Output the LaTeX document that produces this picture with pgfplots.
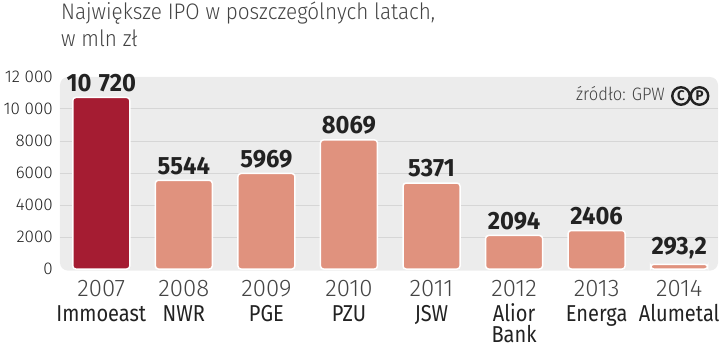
\documentclass[border=0pt]{standalone}
\usepackage{fontspec}
\usepackage{pgfplots}
\pgfplotsset{compat=1.18}
\setmainfont{Fira Sans}
\newfontfamily\lightf{Fira Sans Light}
\newfontfamily\titlef{Fira Sans Light}[FakeStretch=0.92]
\newfontfamily\namef{Fira Sans}[FakeStretch=0.87]
\newfontfamily\valf{Fira Sans Bold}[FakeStretch=0.95]
\definecolor{panel}{HTML}{ECECEC}
\definecolor{gridc}{HTML}{D6D6D6}
\definecolor{darkred}{HTML}{A51C32}
\definecolor{salmon}{HTML}{E0927E}
\definecolor{txt}{HTML}{222222}
\definecolor{yeartxt}{HTML}{444444}
\begin{document}
\begin{tikzpicture}[x=1pt,y=1pt]
\path[use as bounding box] (0,0) rectangle (720,351);
\node[anchor=base west, inner sep=0, font=\titlef\fontsize{22.5}{25}\selectfont, text=txt!85] at (61,331) {Największe IPO w poszczególnych latach,};
\node[anchor=base west, inner sep=0, font=\titlef\fontsize{22.5}{25}\selectfont, text=txt!85] at (61,304) {w mln zł};
\begin{axis}[
  at={(60pt,80.4pt)}, anchor=south west,
  scale only axis, width=658pt, height=193.6pt,
  xmin=-0.5, xmax=7.47, ymin=-100, ymax=12000,
  axis line style={draw=none},
  axis background/.style={fill=panel, rounded corners=8pt},
  scaled y ticks=false,
  ytick={2000,4000,6000,8000,10000},
  yticklabels={2000,4000,6000,8000,10~000},
  extra y ticks={0,12000},
  extra y tick labels={0,12~000},
  extra y tick style={grid=none},
  ymajorgrids, major grid style={gridc, line width=1pt},
  major tick length=0pt,
  yticklabel style={font=\lightf\fontsize{17}{18}\selectfont, text=txt, anchor=east, inner sep=0pt, xshift=-7pt},
  xtick={0,...,7},
  xticklabels={
    {{\lightf\fontsize{24}{21}\selectfont\color{yeartxt}2007}\\[4pt]Immoeast},
    {{\lightf\fontsize{24}{21}\selectfont\color{yeartxt}2008}\\[4pt]NWR},
    {{\lightf\fontsize{24}{21}\selectfont\color{yeartxt}2009}\\[4pt]PGE},
    {{\lightf\fontsize{24}{21}\selectfont\color{yeartxt}2010}\\[4pt]PZU},
    {{\lightf\fontsize{24}{21}\selectfont\color{yeartxt}2011}\\[4pt]JSW},
    {{\lightf\fontsize{24}{21}\selectfont\color{yeartxt}2012}\\[4pt]Alior\\Bank},
    {{\lightf\fontsize{24}{21}\selectfont\color{yeartxt}2013}\\[4pt]Energa},
    {{\lightf\fontsize{24}{21}\selectfont\color{yeartxt}2014}\\[4pt]Alumetal}},
  xticklabel style={align=center, anchor=north, inner sep=0pt, yshift=-9.5pt, font=\namef\fontsize{23}{21}\selectfont, text=txt},
  ybar, bar width=57pt, bar shift=0pt,
  nodes near coords, point meta=explicit symbolic,
  nodes near coords style={font=\valf\fontsize{25}{25}\selectfont, text=txt, anchor=south, inner sep=0pt, yshift=5pt},
  clip=false,
]
\addplot[fill=darkred, draw=white, line width=1.5pt, rounded corners=3pt] coordinates {(0,10720) [10\hspace{0.3em}720]};
\addplot[fill=salmon, draw=white, line width=1.5pt, rounded corners=3pt] coordinates {
(1,5544) [5544]
(2,5969) [5969]
(3,8069) [8069]
(4,5371) [5371]
(5,2094) [2094]
(6,2406) [2406]
(7,293.2) [{293,2}]
};
\end{axis}
\node[anchor=base east, inner sep=0, font=\titlef\fontsize{18}{18}\selectfont, text=txt!85] at (665,250) {źródło: GPW};
\node[circle, draw=txt, line width=2.4pt, minimum size=17.5pt, inner sep=0pt, font=\valf\fontsize{14}{14}\selectfont, text=txt] at (681,255) {C};
\node[circle, draw=txt, line width=2.4pt, minimum size=17.5pt, inner sep=0pt, font=\valf\fontsize{14}{14}\selectfont, text=txt] at (699.5,255) {P};
\end{tikzpicture}
\end{document}
